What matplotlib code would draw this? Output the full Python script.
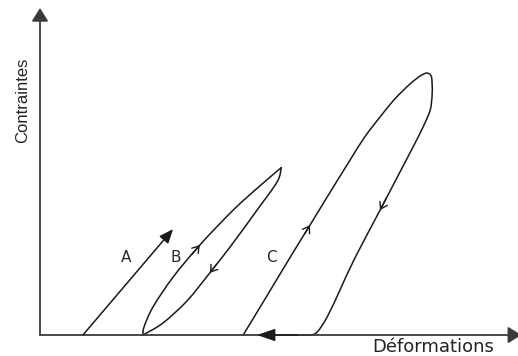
"""
Courbes contrainte-déformation : chargement élastique (A),
boucle d'hystérésis étroite (B) et boucle avec déformation résiduelle (C).
"""

import numpy as np
import matplotlib
matplotlib.use("Agg")
import matplotlib.pyplot as plt
from matplotlib import font_manager
from matplotlib.path import Path
from matplotlib.patches import PathPatch

# Courbe A : chargement simple (déformation, contrainte)
a_strain = [9.0, 27.9]
a_stress = [0.0, 32.4]

# Courbe B : charge puis décharge, boucle fermée (pointe au sommet, indice 7)
b_strain = [21.6, 21.8, 23.7, 27.9, 33.5, 40.5, 46.1, 50.6,
            49.7, 45.5, 40.3, 35.6, 30.8, 25.8, 21.6]
b_stress = [0.0, 2.4, 8.6, 17.7, 27.5, 38.2, 45.6, 51.2,
            46.8, 38.2, 27.8, 19.0, 10.4, 3.7, 0.0]
b_top = 7

# Courbe C : charge, décharge puis retour le long de l'axe
c_strain = [42.6, 46.8, 53.0, 56.6, 60.2, 65.0, 68.1, 71.3, 74.4, 77.6, 79.7, 81.1,
            82.0, 82.2, 82.2, 81.8, 80.3, 78.2, 75.7, 71.3, 66.0, 62.9, 60.2, 58.1,
            56.6, 53.9]
c_stress = [0.0, 10.1, 25.1, 33.6, 42.2, 53.5, 60.6, 66.7, 72.2, 76.8, 79.2, 80.1,
            79.2, 76.8, 73.4, 68.8, 63.6, 57.5, 50.5, 38.2, 23.5, 13.8, 5.5, 0.9,
            0.0, 0.0]
c_return = [53.9, 45.5]

# indices des flèches de sens de parcours (pointe, point précédent)
b_arrows = [(4, 3), (11, 10)]
c_arrows = [(3, 2), (19, 18)]

labels = ["A", "B", "C"]
label_x = [18.0, 28.5, 48.6]
label_y = [23.6, 23.6, 23.6]

LINE = "#1a1a1a"
AXIS = "#3a3a3a"


def pick_narrow():
    try:
        font_manager.findfont("Liberation Sans Narrow", fallback_to_default=False)
        return "Liberation Sans Narrow", 14
    except Exception:
        return "Liberation Sans", 12


def smooth_curve(ax, xs, ys, **kw):
    """Trace une courbe lisse (Catmull-Rom) passant par tous les points."""
    p = np.column_stack([xs, ys]).astype(float)
    n = len(p)
    verts = [p[0]]
    codes = [Path.MOVETO]
    for i in range(n - 1):
        p0 = p[i - 1] if i > 0 else p[i]
        p3 = p[i + 2] if i + 2 < n else p[i + 1]
        c1 = p[i] + (p[i + 1] - p0) / 6
        c2 = p[i + 1] - (p3 - p[i]) / 6
        verts += [c1, c2, p[i + 1]]
        codes += [Path.CURVE4] * 3
    patch = PathPatch(Path(verts, codes), fill=False, capstyle="round",
                      joinstyle="round", clip_on=False, **kw)
    ax.add_patch(patch)


fig = plt.figure(figsize=(5.18, 3.56), dpi=100)
ax = fig.add_axes([40 / 518, 21 / 356, 477 / 518, 327 / 356])
ax.set_xlim(0, 100)
ax.set_ylim(0, 100)
ax.axis("off")

# axes avec flèches
axis_arrow = dict(arrowstyle="-|>,head_length=0.8,head_width=0.5", color=AXIS,
                  lw=1.3, mutation_scale=10, shrinkA=0, shrinkB=0)
ax.annotate("", xy=(0, 1.0), xytext=(0, 0), xycoords="axes fraction",
            arrowprops=axis_arrow, annotation_clip=False)
ax.annotate("", xy=(1.009, 0), xytext=(0, 0), xycoords="axes fraction",
            arrowprops=axis_arrow, annotation_clip=False)

# courbes
style = dict(edgecolor=LINE, lw=1.1)
smooth_curve(ax, b_strain[:b_top + 1], b_stress[:b_top + 1], **style)
smooth_curve(ax, b_strain[b_top:], b_stress[b_top:], **style)
smooth_curve(ax, c_strain, c_stress, **style)
ax.plot([c_strain[-1], c_return[0]], [0, 0], color=LINE, lw=1.1, clip_on=False)

filled = dict(arrowstyle="-|>,head_length=0.85,head_width=0.35", color=LINE,
              lw=1.1, mutation_scale=10, shrinkA=0, shrinkB=0)
ax.annotate("", xy=(a_strain[1], a_stress[1]), xytext=(a_strain[0], a_stress[0]),
            arrowprops=filled)
ax.annotate("", xy=(c_return[1], 0), xytext=(c_return[0], 0),
            arrowprops=dict(filled, arrowstyle="-|>,head_length=1.1,head_width=0.38"))

chevron = dict(arrowstyle="->,head_length=0.45,head_width=0.3", color=LINE,
               lw=1.0, mutation_scale=10, shrinkA=0, shrinkB=0)


def direction_arrows(xs, ys, pairs):
    for tip, prev in pairs:
        tx, ty = xs[tip], ys[tip]
        sx = tx - 0.3 * (tx - xs[prev])
        sy = ty - 0.3 * (ty - ys[prev])
        ax.annotate("", xy=(tx, ty), xytext=(sx, sy), arrowprops=chevron)


direction_arrows(b_strain, b_stress, b_arrows)
direction_arrows(c_strain, c_stress, c_arrows)

for name, x, y in zip(labels, label_x, label_y):
    ax.text(x, y, name, ha="center", va="center", fontsize=11,
            family="DejaVu Sans", color="#2a2a2a")

yfam, ysize = pick_narrow()
fig.text(23 / 518, 1 - 100 / 356, "Contraintes", rotation=90, ha="center",
         va="center", fontsize=ysize, family=yfam, color="#222222")
fig.text(433 / 518, 1 - 352 / 356, "Déformations", ha="center", va="baseline",
         fontsize=13, family="DejaVu Sans", color="#222222")

fig.savefig("out.png", dpi=100, facecolor="white")
